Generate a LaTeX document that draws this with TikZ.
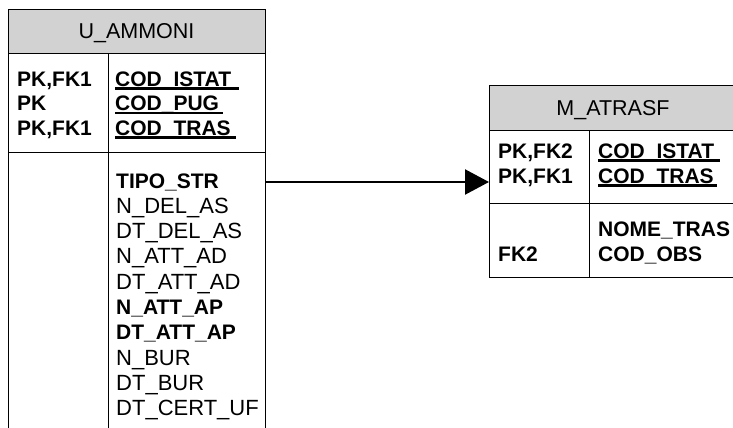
\documentclass[tikz,border=0pt]{standalone}
\usepackage{fontspec}
\setmainfont{Liberation Sans}
\usetikzlibrary{arrows.meta}
\definecolor{hdrgray}{RGB}{210,210,210}
\begin{document}
\begin{tikzpicture}[x=1pt,y=-1pt,
  box/.style={draw, line width=1.4pt, inner sep=0pt, anchor=north west},
  hdr/.style={box, fill=hdrgray},
  txt/.style={inner sep=0pt, anchor=base west, font=\fontsize{22}{24}\selectfont},
  btxt/.style={inner sep=0pt, anchor=base west, font=\fontsize{21}{24}\selectfont\bfseries},
  ttl/.style={inner sep=0pt, anchor=base, font=\fontsize{21.5}{24}\selectfont},
  ul/.style={line width=2.4pt},
  rel/.style={line width=2.2pt, -{Triangle[length=24pt,width=25pt]}}]
\useasboundingbox (0,0) rectangle (733,428);
\clip (0,0) rectangle (733,428);
% ---- U_AMMONI ----
\node[hdr, minimum width=257pt, minimum height=44pt] (uhead) at (8,9) {};
\node[box, minimum width=100pt, minimum height=99pt] (ukl) at (8,53) {};
\node[box, minimum width=157pt, minimum height=99pt] (ukr) at (108,53) {};
\node[box, minimum width=100pt, minimum height=290pt] (ual) at (8,152) {};
\node[box, minimum width=157pt, minimum height=290pt] (uar) at (108,152) {};
\node[ttl] (utitle) at (136.5,39) {U\_AMMONI};
\node[btxt] (uk1) at (17,86) {PK,FK1};
\node[btxt] (uk2) at (17,110.5) {PK};
\node[btxt] (uk3) at (17,135) {PK,FK1};
\node[btxt] (uc1) at (115,86) {COD\_ISTAT};
\node[btxt] (uc2) at (115,110.5) {COD\_PUG};
\node[btxt] (uc3) at (115,135) {COD\_TRAS};
\draw[ul] ([yshift=-2.5pt]uc1.base west) -- ++(124,0);
\draw[ul] ([yshift=-2.5pt]uc2.base west) -- ++(108,0);
\draw[ul] ([yshift=-2.5pt]uc3.base west) -- ++(121,0);
\node[btxt] (ua1) at (116,188) {TIPO\_STR};
\node[txt]  (ua2) at (116,213.3) {N\_DEL\_AS};
\node[txt]  (ua3) at (116,238.6) {DT\_DEL\_AS};
\node[txt]  (ua4) at (116,263.9) {N\_ATT\_AD};
\node[txt]  (ua5) at (116,289.2) {DT\_ATT\_AD};
\node[btxt] (ua6) at (116,314.5) {N\_ATT\_AP};
\node[btxt] (ua7) at (116,339.8) {DT\_ATT\_AP};
\node[txt]  (ua8) at (116,365.1) {N\_BUR};
\node[txt]  (ua9) at (116,390.4) {DT\_BUR};
\node[txt]  (ua10) at (116,415.7) {DT\_CERT\_UF};
% ---- M_ATRASF ----
\node[hdr, minimum width=248pt, minimum height=45pt] (mhead) at (489,85) {};
\node[box, minimum width=100pt, minimum height=73pt] (mkl) at (489,130) {};
\node[box, minimum width=148pt, minimum height=73pt] (mkr) at (589,130) {};
\node[box, minimum width=100pt, minimum height=74pt] (mal) at (489,203) {};
\node[box, minimum width=148pt, minimum height=74pt] (mar) at (589,203) {};
\node[ttl] (mtitle) at (613,115) {M\_ATRASF};
\node[btxt] (mk1) at (498,158) {PK,FK2};
\node[btxt] (mk2) at (498,183) {PK,FK1};
\node[btxt] (mc1) at (598,158) {COD\_ISTAT};
\node[btxt] (mc2) at (598,183) {COD\_TRAS};
\draw[ul] ([yshift=-2.5pt]mc1.base west) -- ++(122,0);
\draw[ul] ([yshift=-2.5pt]mc2.base west) -- ++(119,0);
\node[btxt] (ma1) at (598,236) {NOME\_TRAS};
\node[btxt] (ma2) at (598,261) {COD\_OBS};
\node[btxt] (mf1) at (498,261) {FK2};
% ---- relation ----
\draw[rel] (uar.east |- 0,182) -- (mkl.west |- 0,182);
\end{tikzpicture}
\end{document}
